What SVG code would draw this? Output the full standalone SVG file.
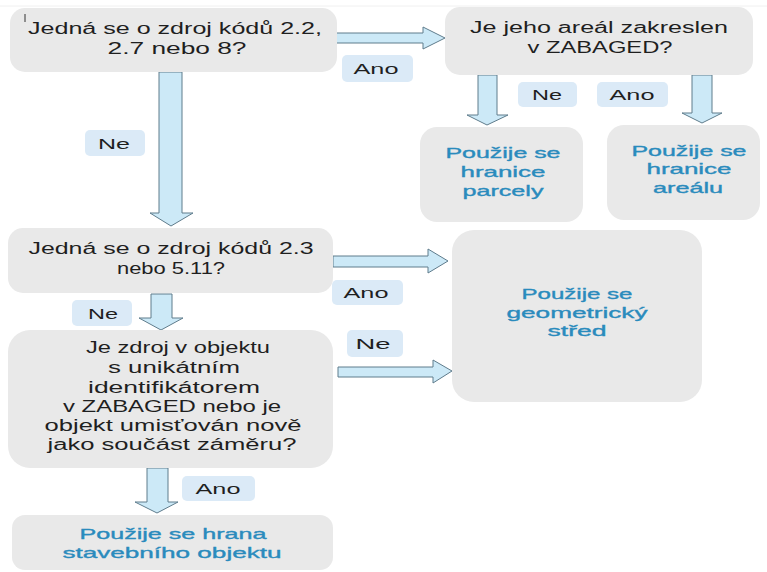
<svg xmlns="http://www.w3.org/2000/svg" width="767" height="572" viewBox="0 0 767 572">
<style>
.box{fill:#e9e9e9}
.lbl{fill:#dbeaf7}
.arr{fill:#cce9f7;stroke:#5f7c8c;stroke-width:1}
.q{font-family:"Liberation Sans",Arial,sans-serif;font-size:16px;fill:#1f1f1f;text-anchor:middle}
.r{font-family:"Liberation Sans",Arial,sans-serif;font-size:15px;fill:#2a8bbd;stroke:#2a8bbd;stroke-width:0.35;text-anchor:middle}
.t{font-family:"Liberation Sans",Arial,sans-serif;font-size:15.5px;fill:#1f1f1f;text-anchor:middle}
</style>
<rect width="767" height="572" fill="#ffffff"/>
<line x1="0" y1="6" x2="767" y2="6" stroke="#f0f0f0" stroke-width="1"/>

<g id="connectors">
<polygon class="arr" points="335,33 423,33 423,27 445,38 423,49 423,43 335,43"/>
<polygon class="arr" points="159,72 182,72 182,213 193,213 171,226 150,213 159,213"/>
<polygon class="arr" points="478,75 497,75 497,115 508,115 487,125 467,115 478,115"/>
<polygon class="arr" points="692,75 712,75 712,113 722,113 702,123 682,113 692,113"/>
<polygon class="arr" points="333,256 428,256 428,249 448,261 428,273 428,267 333,267"/>
<polygon class="arr" points="151,294 172,294 172,318 183,318 161,330 139,318 151,318"/>
<polygon class="arr" points="338,367 433,367 433,360 452,371 433,383 433,377 338,377"/>
<polygon class="arr" points="147,468 168,468 168,502 178,502 157,513 135,502 147,502"/>
</g>

<g id="labels">
<g id="lbl-ano1"><rect class="lbl" x="342" y="55" width="71" height="27" rx="5"/><text class="t" x="376" y="74" textLength="45" lengthAdjust="spacingAndGlyphs">Ano</text></g>
<g id="lbl-ne1"><rect class="lbl" x="85" y="130" width="60" height="26" rx="5"/><text class="t" x="114" y="149" textLength="32" lengthAdjust="spacingAndGlyphs">Ne</text></g>
<g id="lbl-ne2"><rect class="lbl" x="518" y="82" width="59" height="25" rx="5"/><text class="t" x="547" y="100" textLength="30" lengthAdjust="spacingAndGlyphs">Ne</text></g>
<g id="lbl-ano2"><rect class="lbl" x="597" y="82" width="71" height="25" rx="5"/><text class="t" x="632" y="100" textLength="45" lengthAdjust="spacingAndGlyphs">Ano</text></g>
<g id="lbl-ano3"><rect class="lbl" x="332" y="280" width="71" height="25" rx="5"/><text class="t" x="366" y="298" textLength="45" lengthAdjust="spacingAndGlyphs">Ano</text></g>
<g id="lbl-ne3"><rect class="lbl" x="72" y="300" width="60" height="26" rx="5"/><text class="t" x="103" y="319" textLength="30" lengthAdjust="spacingAndGlyphs">Ne</text></g>
<g id="lbl-ne4"><rect class="lbl" x="347" y="330" width="56" height="27" rx="5"/><text class="t" x="373" y="349" textLength="35" lengthAdjust="spacingAndGlyphs">Ne</text></g>
<g id="lbl-ano4"><rect class="lbl" x="182" y="476" width="73" height="25" rx="5"/><text class="t" x="218" y="494" textLength="45" lengthAdjust="spacingAndGlyphs">Ano</text></g>
</g>

<g id="q1">
<rect class="box" x="10" y="8" width="327" height="64" rx="15"/>
<line x1="25" y1="14" x2="25" y2="22" stroke="#333" stroke-width="1"/>
<text class="q" x="175" y="34" textLength="294" lengthAdjust="spacingAndGlyphs">Jedná se o zdroj kódů 2.2,</text>
<text class="q" x="177" y="54" textLength="139" lengthAdjust="spacingAndGlyphs">2.7 nebo 8?</text>
</g>

<g id="q2">
<rect class="box" x="445" y="7" width="308" height="68" rx="15"/>
<text class="q" x="599" y="33" textLength="258" lengthAdjust="spacingAndGlyphs">Je jeho areál zakreslen</text>
<text class="q" x="600" y="53" textLength="145" lengthAdjust="spacingAndGlyphs">v ZABAGED?</text>
</g>

<g id="r-parcely">
<rect class="box" x="420" y="127" width="163" height="95" rx="17"/>
<text class="r" x="503" y="158" textLength="115" lengthAdjust="spacingAndGlyphs">Použije se</text>
<text class="r" x="503" y="177" textLength="85" lengthAdjust="spacingAndGlyphs">hranice</text>
<text class="r" x="503" y="196" textLength="81" lengthAdjust="spacingAndGlyphs">parcely</text>
</g>

<g id="r-arealu">
<rect class="box" x="607" y="125" width="153" height="95" rx="17"/>
<text class="r" x="689" y="156" textLength="115" lengthAdjust="spacingAndGlyphs">Použije se</text>
<text class="r" x="689" y="174" textLength="85" lengthAdjust="spacingAndGlyphs">hranice</text>
<text class="r" x="688" y="193" textLength="70" lengthAdjust="spacingAndGlyphs">areálu</text>
</g>

<g id="q3">
<rect class="box" x="8" y="228" width="325" height="65" rx="15"/>
<text class="q" x="171" y="254" textLength="285" lengthAdjust="spacingAndGlyphs">Jedná se o zdroj kódů 2.3</text>
<text class="q" x="171" y="274" textLength="108" lengthAdjust="spacingAndGlyphs">nebo 5.11?</text>
</g>

<g id="r-stred">
<rect class="box" x="452" y="230" width="250" height="172" rx="22"/>
<text class="r" x="577" y="299" textLength="111" lengthAdjust="spacingAndGlyphs">Použije se</text>
<text class="r" x="577" y="318" textLength="141" lengthAdjust="spacingAndGlyphs">geometrický</text>
<text class="r" x="577" y="336" textLength="59" lengthAdjust="spacingAndGlyphs">střed</text>
</g>

<g id="q4">
<rect class="box" x="8" y="330" width="325" height="138" rx="22"/>
<text class="q" x="178" y="353" textLength="184" lengthAdjust="spacingAndGlyphs">Je zdroj v objektu</text>
<text class="q" x="174" y="373" textLength="132" lengthAdjust="spacingAndGlyphs">s unikátním</text>
<text class="q" x="174" y="393" textLength="172" lengthAdjust="spacingAndGlyphs">identifikátorem</text>
<text class="q" x="172" y="412" textLength="218" lengthAdjust="spacingAndGlyphs">v ZABAGED nebo je</text>
<text class="q" x="173" y="431" textLength="257" lengthAdjust="spacingAndGlyphs">objekt umisťován nově</text>
<text class="q" x="172" y="450" textLength="249" lengthAdjust="spacingAndGlyphs">jako součást záměru?</text>
</g>

<g id="r-hrana">
<rect class="box" x="12" y="515" width="321" height="55" rx="13"/>
<text class="r" x="173" y="539" textLength="187" lengthAdjust="spacingAndGlyphs">Použije se hrana</text>
<text class="r" x="172" y="558" textLength="219" lengthAdjust="spacingAndGlyphs">stavebního objektu</text>
</g>
</svg>
